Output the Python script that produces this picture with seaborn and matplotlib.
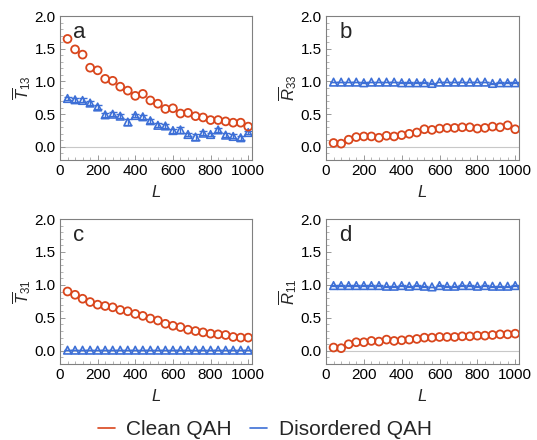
import numpy as np
import pandas as pd
import matplotlib
matplotlib.use("Agg")
import matplotlib.pyplot as plt
from matplotlib.lines import Line2D
from matplotlib.ticker import MultipleLocator
import seaborn as sns

L = [40, 80, 120, 160, 200, 240, 280, 320, 360, 400, 440, 480, 520, 560, 600,
     640, 680, 720, 760, 800, 840, 880, 920, 960, 1000]

# panel a: T13
a_clean = [1.65, 1.49, 1.41, 1.21, 1.17, 1.04, 1.01, 0.92, 0.86, 0.78, 0.81, 0.71, 0.66,
           0.58, 0.59, 0.51, 0.52, 0.47, 0.45, 0.41, 0.41, 0.39, 0.37, 0.37, 0.31]
a_dis = [0.74, 0.72, 0.71, 0.67, 0.61, 0.49, 0.50, 0.47, 0.38, 0.48, 0.46, 0.40, 0.33,
         0.32, 0.25, 0.26, 0.19, 0.15, 0.21, 0.19, 0.26, 0.18, 0.16, 0.14, 0.22]
a_err = [0.03, 0.03, 0.03, 0.03, 0.03, 0.03, 0.03, 0.03, 0.04, 0.03, 0.03, 0.03, 0.03,
         0.03, 0.03, 0.04, 0.03, 0.04, 0.03, 0.03, 0.03, 0.03, 0.03, 0.03, 0.03]

# panel b: R33
b_clean = [0.06, 0.05, 0.11, 0.15, 0.16, 0.16, 0.14, 0.17, 0.16, 0.18, 0.20, 0.22, 0.27,
           0.26, 0.28, 0.29, 0.29, 0.30, 0.30, 0.28, 0.29, 0.31, 0.30, 0.33, 0.27]
b_dis = [0.99, 0.99, 0.99, 0.99, 0.98, 0.99, 0.99, 0.99, 0.99, 0.98, 0.98, 0.98, 0.98,
         0.97, 0.99, 0.99, 0.99, 0.99, 0.99, 0.99, 0.99, 0.97, 0.98, 0.98, 0.98]
b_err = [0.005] * 25

# panel c: T31
c_clean = [0.90, 0.85, 0.79, 0.74, 0.70, 0.68, 0.66, 0.62, 0.60, 0.56, 0.53, 0.49, 0.46,
           0.41, 0.38, 0.36, 0.32, 0.30, 0.28, 0.26, 0.25, 0.24, 0.21, 0.20, 0.20]
c_dis = [0.01] * 25
c_err = [0.005] * 25

# panel d: R11
d_clean = [0.05, 0.04, 0.10, 0.13, 0.13, 0.15, 0.14, 0.17, 0.15, 0.16, 0.17, 0.18, 0.20,
           0.20, 0.21, 0.21, 0.21, 0.22, 0.22, 0.23, 0.23, 0.24, 0.25, 0.25, 0.26]
d_dis = [0.99, 0.99, 0.99, 0.99, 0.99, 0.99, 0.99, 0.98, 0.98, 0.99, 0.98, 0.99, 0.98,
         0.97, 0.99, 0.98, 0.98, 0.99, 0.99, 0.98, 0.99, 0.98, 0.98, 0.98, 0.99]
d_err = [0.005] * 25

panel_letters = ["a", "b", "c", "d"]
ylabels = [r"$\overline{T}_{\mathrm{13}}$", r"$\overline{R}_{\mathrm{33}}$",
           r"$\overline{T}_{\mathrm{31}}$", r"$\overline{R}_{\mathrm{11}}$"]
legend_labels = ["Clean QAH", "Disordered QAH"]

RED = "#D9461C"
BLUE = "#3D6FD6"

sns.set_theme(style="ticks")
plt.rcParams["font.family"] = ["Liberation Sans", "DejaVu Sans"]
plt.rcParams["mathtext.fontset"] = "custom"
plt.rcParams["mathtext.rm"] = "Liberation Sans"
plt.rcParams["mathtext.it"] = "Liberation Sans:italic"

fig = plt.figure(figsize=(5.37, 4.4), dpi=100)
W, H = 537, 440
boxes = [(60, 16, 252, 160), (326, 16, 519, 160),
         (60, 219, 252, 364), (326, 219, 519, 364)]

data = [(a_clean, a_dis, a_err), (b_clean, b_dis, b_err),
        (c_clean, c_dis, c_err), (d_clean, d_dis, d_err)]

for i, (box, (cl, ds, er)) in enumerate(zip(boxes, data)):
    x0, y0, x1, y1 = box
    ax = fig.add_axes([x0 / W, 1 - y1 / H, (x1 - x0) / W, (y1 - y0) / H])
    df = pd.DataFrame({"L": L, "clean": cl, "dis": ds, "err": er})
    ax.axhline(0, color="#C8C8C8", lw=0.8, zorder=0)
    ax.errorbar(df["L"], df["dis"], yerr=df["err"], fmt="none", ecolor=BLUE,
                elinewidth=1.0, capsize=2.6, capthick=1.0, zorder=2)
    sns.scatterplot(data=df, x="L", y="dis", ax=ax, marker="^", s=30,
                    facecolor="none", edgecolor=BLUE, linewidth=1.2, zorder=3)
    sns.scatterplot(data=df, x="L", y="clean", ax=ax, marker="o", s=32,
                    facecolor="none", edgecolor=RED, linewidth=1.3, zorder=3)
    ax.set_xlim(0, 1020)
    ax.set_ylim(-0.2, 2.0)
    ax.xaxis.set_major_locator(MultipleLocator(200))
    ax.xaxis.set_minor_locator(MultipleLocator(40))
    ax.yaxis.set_major_locator(MultipleLocator(0.5))
    ax.yaxis.set_minor_locator(MultipleLocator(0.1))
    ax.tick_params(which="both", direction="in", colors="#999999",
                   labelcolor="black", labelsize=11, pad=3)
    ax.tick_params(which="major", length=3.5, width=0.7)
    ax.tick_params(which="minor", length=2, width=0.5)
    for sp in ax.spines.values():
        sp.set_color("#808080")
        sp.set_linewidth(0.8)
    ax.set_xlabel("$L$", fontsize=12, labelpad=4)
    ax.set_ylabel(ylabels[i], fontsize=12, labelpad=1)
    ax.text(0.07, 0.845, panel_letters[i], transform=ax.transAxes,
            fontsize=16, ha="left", va="baseline")

handles = [Line2D([], [], color=RED, lw=1.2), Line2D([], [], color=BLUE, lw=1.2)]
fig.legend(handles, legend_labels, loc="center", bbox_to_anchor=(0.493, 0.023),
           ncol=2, frameon=False, fontsize=15, handlelength=0.8, handletextpad=0.55,
           columnspacing=0.9, borderpad=0)

fig.savefig("out.png", dpi=100)
